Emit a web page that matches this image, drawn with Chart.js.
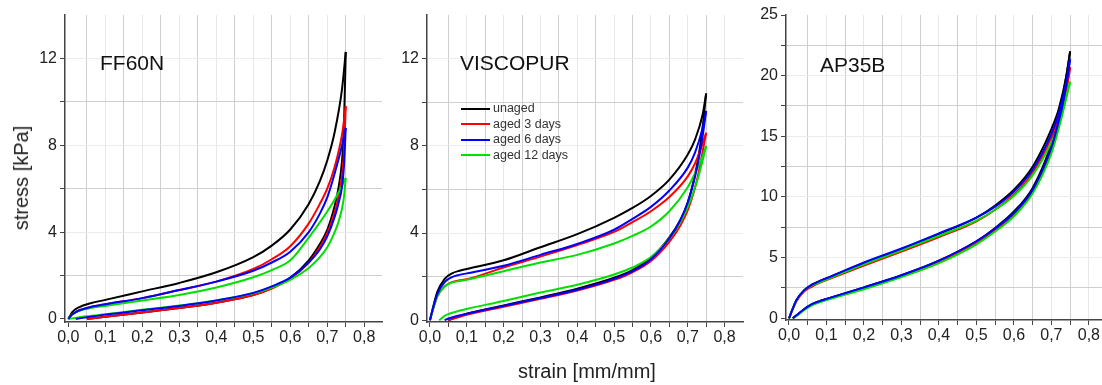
<!DOCTYPE html>
<html>
<head>
<meta charset="utf-8">
<script src="https://cdn.jsdelivr.net/npm/chart.js@4.4.1/dist/chart.umd.min.js"></script>
<style>
    body { margin: 0; background: #fff; font-family: 'Liberation Sans', Arial, sans-serif; }
    #wrap { position: relative; width: 1102px; height: 385px; overflow: hidden; }
    canvas { position: absolute; top: 0; }
    .panel-title { position: absolute; font-size: 21px; line-height: 21px; color: #111; }
    .axis-title { position: absolute; font-size: 20px; line-height: 20px; color: #222; white-space: nowrap; }
    #legend { position: absolute; left: 461px; top: 101px; font-size: 12.5px; color: #333; }
    #legend div { height: 15.5px; line-height: 15.5px; white-space: nowrap; }
    #legend span { display: inline-block; width: 29px; height: 2px; vertical-align: middle; margin-right: 3px; }
</style>
</head>
<body>
<div id="wrap">
    <canvas id="ff60n" width="400" height="385" style="left:0px"></canvas>
    <canvas id="viscopur" width="380" height="385" style="left:380px"></canvas>
    <canvas id="ap35b" width="362" height="385" style="left:740px"></canvas>

    <div class="panel-title" style="left:100px; top:52px">FF60N</div>
    <div class="panel-title" style="left:460px; top:52px">VISCOPUR</div>
    <div class="panel-title" style="left:820px; top:54px">AP35B</div>

    <div class="axis-title" style="left:21px; top:178px; transform: translate(-50%, -50%) rotate(-90deg)">stress [kPa]</div>
    <div class="axis-title" style="left:587px; top:371px; transform: translate(-50%, -50%)">strain [mm/mm]</div>

    <div id="legend"></div>
</div>
<script>
// series, in legend order
const seriesNames = ['unaged', 'aged 3 days', 'aged 6 days', 'aged 12 days'];

// tick labels
const xTicks = [0, 0.1, 0.2, 0.3, 0.4, 0.5, 0.6, 0.7, 0.8];
const kPaTicks14 = [0, 4, 8, 12];
const kPaTicks25 = [0, 5, 10, 15, 20, 25];

// FF60N - loading branch
const ff60nLoadStrain = [0, 0.01, 0.03, 0.06, 0.1, 0.2, 0.3, 0.4, 0.5, 0.55, 0.6, 0.65, 0.68, 0.7, 0.72, 0.74, 0.75];
const ff60nLoad = [
    [0, 0.3, 0.55, 0.72, 0.88, 1.27, 1.66, 2.15, 2.85, 3.38, 4.12, 5.3, 6.35, 7.3, 8.6, 10.6, 12.3],
    [0, 0.2, 0.4, 0.55, 0.68, 0.96, 1.33, 1.72, 2.3, 2.75, 3.35, 4.4, 5.3, 6.0, 7.0, 8.5, 9.8],
    [0, 0.2, 0.4, 0.55, 0.68, 0.96, 1.33, 1.72, 2.22, 2.6, 3.1, 4.0, 4.85, 5.6, 6.7, 8.0, 8.8],
    [0, 0.2, 0.38, 0.5, 0.6, 0.85, 1.1, 1.45, 1.92, 2.25, 2.7, 3.75, 4.45, 4.95, 5.5, 6.15, 6.5]
];
// FF60N - unloading branch
const ff60nUnloadStrain = [0, 0.02, 0.05, 0.1, 0.2, 0.3, 0.4, 0.5, 0.55, 0.6, 0.65, 0.68, 0.7, 0.72, 0.73, 0.74, 0.745, 0.75];
const ff60nUnload = [
    [null, null, 0, 0.1, 0.3, 0.5, 0.75, 1.1, 1.42, 1.9, 2.7, 3.45, 4.1, 5.2, 6.0, 7.3, 8.8, 12.3],
    [null, null, 0, 0.1, 0.3, 0.5, 0.75, 1.1, 1.4, 1.85, 2.6, 3.3, 3.95, 4.9, 5.6, 6.6, 7.6, 9.8],
    [null, 0, 0.08, 0.2, 0.4, 0.6, 0.85, 1.2, 1.5, 1.9, 2.6, 3.2, 3.8, 4.7, 5.3, 6.1, 7.0, 8.8],
    [0, 0.05, 0.12, 0.22, 0.42, 0.62, 0.85, 1.18, 1.45, 1.8, 2.35, 2.85, 3.3, 4.0, 4.45, 5.1, 5.6, 6.5]
];

// VISCOPUR
const viscoLoadStrain = [0, 0.01, 0.02, 0.04, 0.06, 0.08, 0.1, 0.2, 0.3, 0.4, 0.5, 0.55, 0.6, 0.65, 0.7, 0.72, 0.74, 0.75];
const viscoLoad = [
    [0, 0.7, 1.3, 1.9, 2.15, 2.27, 2.35, 2.75, 3.35, 3.95, 4.7, 5.15, 5.7, 6.45, 7.6, 8.3, 9.4, 10.4],
    [0, 0.6, 1.1, 1.55, 1.75, 1.83, 1.88, 2.42, 2.92, 3.45, 4.05, 4.5, 5.0, 5.65, 6.6, 7.2, 8.1, 8.6],
    [0, 0.65, 1.2, 1.75, 1.98, 2.08, 2.15, 2.5, 3.0, 3.5, 4.15, 4.65, 5.2, 5.95, 7.0, 7.7, 8.8, 9.6],
    [0, 0.6, 1.1, 1.55, 1.73, 1.8, 1.86, 2.25, 2.65, 3.0, 3.52, 3.87, 4.3, 5.0, 6.1, 6.75, 7.5, 8.0]
];
const viscoUnloadStrain = [0, 0.025, 0.04, 0.05, 0.1, 0.2, 0.3, 0.4, 0.5, 0.55, 0.6, 0.65, 0.68, 0.7, 0.72, 0.73, 0.74, 0.75];
const viscoUnload = [
    [null, null, null, 0, 0.3, 0.68, 1.05, 1.45, 1.95, 2.3, 2.85, 3.8, 4.6, 5.4, 6.7, 7.6, 8.8, 10.4],
    [null, null, null, 0, 0.25, 0.62, 0.98, 1.36, 1.85, 2.2, 2.72, 3.6, 4.35, 5.05, 6.1, 6.8, 7.7, 8.6],
    [null, null, 0, 0.08, 0.3, 0.66, 1.02, 1.4, 1.9, 2.25, 2.8, 3.75, 4.6, 5.4, 6.6, 7.4, 8.4, 9.6],
    [null, 0, 0.2, 0.28, 0.52, 0.88, 1.27, 1.63, 2.1, 2.42, 2.9, 3.75, 4.5, 5.2, 6.1, 6.65, 7.3, 8.0]
];

// AP35B
const ap35bLoadStrain = [0, 0.01, 0.02, 0.04, 0.06, 0.08, 0.1, 0.2, 0.3, 0.4, 0.5, 0.55, 0.6, 0.65, 0.7, 0.72, 0.74, 0.75];
const ap35bLoad = [
    [0, 0.8, 1.5, 2.3, 2.75, 3.05, 3.3, 4.55, 5.7, 6.95, 8.3, 9.3, 10.6, 12.5, 15.6, 17.3, 20.0, 22.0],
    [0, 0.75, 1.4, 2.2, 2.6, 2.9, 3.15, 4.35, 5.5, 6.7, 8.0, 8.95, 10.2, 12.0, 14.9, 16.5, 19.0, 20.7],
    [0, 0.8, 1.5, 2.3, 2.75, 3.05, 3.3, 4.6, 5.75, 7.0, 8.3, 9.2, 10.45, 12.25, 15.2, 16.9, 19.5, 21.4],
    [0, 0.8, 1.5, 2.3, 2.7, 2.95, 3.2, 4.45, 5.6, 6.8, 8.05, 8.95, 10.1, 11.8, 14.5, 16.0, 18.2, 19.5]
];
const ap35bUnloadStrain = [0, 0.01, 0.02, 0.04, 0.06, 0.08, 0.1, 0.2, 0.3, 0.4, 0.5, 0.55, 0.6, 0.65, 0.7, 0.72, 0.73, 0.74, 0.75];
const ap35bUnload = [
    [null, 0, 0.25, 0.75, 1.15, 1.4, 1.6, 2.55, 3.55, 4.75, 6.35, 7.45, 8.8, 10.75, 14.4, 16.8, 18.2, 20.0, 22.0],
    [null, 0, 0.22, 0.7, 1.1, 1.35, 1.55, 2.45, 3.45, 4.6, 6.2, 7.25, 8.55, 10.45, 13.9, 16.0, 17.2, 18.8, 20.7],
    [null, 0, 0.25, 0.75, 1.15, 1.4, 1.6, 2.55, 3.55, 4.75, 6.35, 7.4, 8.7, 10.6, 14.1, 16.3, 17.6, 19.3, 21.4],
    [null, 0, 0.2, 0.65, 1.05, 1.3, 1.5, 2.4, 3.4, 4.55, 6.1, 7.15, 8.4, 10.3, 13.6, 15.7, 16.9, 18.3, 19.5]
];

const seriesColors = ['#000000', '#ff0000', '#0000ff', '#00e000'];
const drawOrder = [4, 3, 1, 2];   // lower = drawn on top

/**
 * Pair a strain array with a stress array into scatter points
 */
function toPoints(strain, stress) {
    return strain.map(function(x, i) {
        return { x: x, y: stress[i] };
    });
}

/**
 * Major ticks plus a minor tick halfway between each pair
 */
function withMinor(major) {
    const out = [];
    major.forEach(function(v, i) {
        out.push({ value: v });
        if (i < major.length - 1) out.push({ value: (v + major[i + 1]) / 2 });
    });
    return out;
}

function isMajor(list, v) {
    return list.some(function(m) { return Math.abs(m - v) < 1e-9; });
}

/**
 * Create one stress/strain hysteresis panel
 */
function createPanel(canvasId, cfg) {
    const ctx = document.getElementById(canvasId);
    const datasets = [];
    seriesNames.forEach(function(name, i) {
        [[cfg.loadStrain, cfg.load[i], 'load'], [cfg.unloadStrain, cfg.unload[i], 'unload']].forEach(function(b) {
            datasets.push({
                label: name + ' ' + b[2],
                data: toPoints(b[0], b[1]),
                borderColor: seriesColors[i],
                borderWidth: 2,
                pointRadius: 0,
                showLine: true,
                fill: false,
                cubicInterpolationMode: 'monotone',
                order: drawOrder[i],
            });
        });
    });

    const tickFont = { family: 'Liberation Sans', size: 16 };

    return new Chart(ctx, {
        type: 'scatter',
        data: { datasets: datasets },
        options: {
            responsive: false,
            animation: false,
            devicePixelRatio: 1,
            layout: {
                autoPadding: false,
                padding: { left: 0, top: 15, right: cfg.padRight, bottom: 0 }
            },
            plugins: {
                legend: { display: false },
                tooltip: { enabled: false }
            },
            scales: {
                x: {
                    type: 'linear',
                    min: cfg.xMin,
                    max: cfg.xMax,
                    afterBuildTicks: function(s) { s.ticks = withMinor(xTicks); },
                    afterFit: function(s) { s.height = cfg.xHeight; },
                    ticks: {
                        autoSkip: false,
                        maxRotation: 0,
                        padding: 1,
                        color: '#222',
                        font: tickFont,
                        callback: function(v) {
                            return isMajor(xTicks, v) ? v.toFixed(1).replace('.', ',') : '';
                        }
                    },
                    grid: {
                        tickLength: 5,
                        tickColor: '#444',
                        color: function(c) {
                            if (!c.tick || c.tick.value === 0) return 'rgba(0,0,0,0)';
                            return isMajor(xTicks, c.tick.value) ? '#e8e8e8' : '#cfcfcf';
                        }
                    },
                    border: { color: '#444', width: 1.5 }
                },
                y: {
                    type: 'linear',
                    min: cfg.yMin,
                    max: cfg.yMax,
                    afterBuildTicks: function(s) { s.ticks = withMinor(cfg.yTicks); },
                    afterFit: function(s) { s.width = cfg.yWidth; },
                    ticks: {
                        autoSkip: false,
                        padding: 3,
                        color: '#222',
                        font: tickFont,
                        callback: function(v) {
                            return isMajor(cfg.yTicks, v) ? String(v) : '';
                        }
                    },
                    grid: {
                        tickLength: 5,
                        tickColor: '#444',
                        color: function(c) {
                            if (!c.tick || c.tick.value === 0 || c.tick.value === cfg.yMax) return 'rgba(0,0,0,0)';
                            return isMajor(cfg.yTicks, c.tick.value) ? '#ececec' : '#cfcfcf';
                        }
                    },
                    border: { color: '#444', width: 1.5 }
                }
            }
        }
    });
}

createPanel('ff60n', {
    loadStrain: ff60nLoadStrain, load: ff60nLoad,
    unloadStrain: ff60nUnloadStrain, unload: ff60nUnload,
    xMin: -0.009, xMax: 0.848, yMin: -0.14, yMax: 14, yTicks: kPaTicks14,
    yWidth: 65, xHeight: 63, padRight: 18
});

createPanel('viscopur', {
    loadStrain: viscoLoadStrain, load: viscoLoad,
    unloadStrain: viscoUnloadStrain, unload: viscoUnload,
    xMin: -0.008, xMax: 0.85, yMin: -0.08, yMax: 14, yTicks: kPaTicks14,
    yWidth: 47, xHeight: 63, padRight: 17
});

createPanel('ap35b', {
    loadStrain: ap35bLoadStrain, load: ap35bLoad,
    unloadStrain: ap35bUnloadStrain, unload: ap35bUnload,
    xMin: -0.008, xMax: 0.835, yMin: -0.14, yMax: 25, yTicks: kPaTicks25,
    yWidth: 46, xHeight: 65, padRight: 0
});

// legend inside the VISCOPUR panel
const legendEl = document.getElementById('legend');
seriesNames.forEach(function(name, i) {
    const row = document.createElement('div');
    row.innerHTML = '<span style="background:' + seriesColors[i] + '"></span>' + name;
    legendEl.appendChild(row);
});
</script>
</body>
</html>
